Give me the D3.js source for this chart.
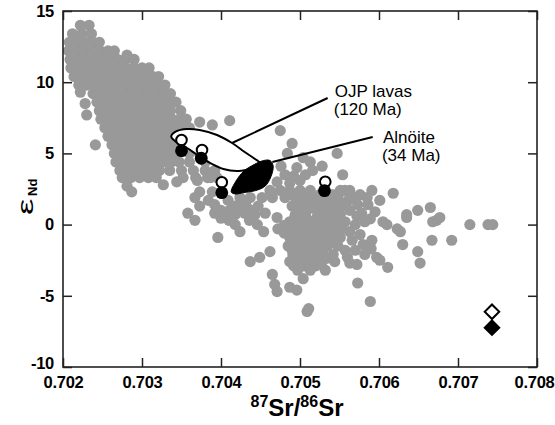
<!DOCTYPE html>
<html>
<head>
<meta charset="utf-8">
<script src="https://cdn.jsdelivr.net/npm/d3@7"></script>
<style>
  body { margin: 0; background: #fff; }
  svg { display: block; }
  text { font-family: "Liberation Sans", Arial, Helvetica, sans-serif; }
</style>
</head>
<body>
<div id="chart"></div>
<script>
// axis ticks
const xTicks = [0.702, 0.703, 0.704, 0.705, 0.706, 0.707, 0.708]
const yTicks = [-10, -5, 0, 5, 10, 15]

// grey field: MORB / OIB compilation, [87Sr/86Sr, eNd]
const fieldPoints = [
  [0.70222, 14.0], [0.70233, 14.0],
  [0.70212, 13.4], [0.70224, 13.4], [0.70236, 13.4],
  [0.70208, 12.8], [0.70218, 12.8], [0.70228, 12.8], [0.70238, 12.8], [0.70246, 12.8],
  [0.70207, 12.2], [0.70217, 12.2], [0.70227, 12.2], [0.70237, 12.2], [0.70247, 12.2], [0.70257, 12.2], [0.70265, 12.2], [0.70281, 11.9],
  [0.70209, 11.6], [0.70219, 11.6], [0.70229, 11.6], [0.70239, 11.6], [0.70249, 11.6], [0.70259, 11.6], [0.70269, 11.6], [0.70279, 11.6], [0.70290, 11.6],
  [0.70210, 11.0], [0.70220, 11.0], [0.70230, 11.0], [0.70240, 11.0], [0.70250, 11.0], [0.70260, 11.0], [0.70270, 11.0], [0.70280, 11.0], [0.70290, 11.0], [0.70300, 11.0], [0.70309, 11.0],
  [0.70214, 10.4], [0.70224, 10.4], [0.70234, 10.4], [0.70244, 10.4], [0.70254, 10.4], [0.70264, 10.4], [0.70274, 10.4], [0.70284, 10.4], [0.70294, 10.4], [0.70304, 10.4], [0.70314, 10.4], [0.70321, 10.4],
  [0.70220, 9.8], [0.70230, 9.8], [0.70240, 9.8], [0.70250, 9.8], [0.70260, 9.8], [0.70270, 9.8], [0.70280, 9.8], [0.70290, 9.8], [0.70300, 9.8], [0.70310, 9.8], [0.70320, 9.8], [0.70329, 9.8],
  [0.70222, 9.3],
  [0.70238, 9.2], [0.70248, 9.2], [0.70258, 9.2], [0.70268, 9.2], [0.70278, 9.2], [0.70288, 9.2], [0.70298, 9.2], [0.70308, 9.2], [0.70318, 9.2], [0.70328, 9.2], [0.70336, 9.2],
  [0.70228, 8.5],
  [0.70243, 8.6], [0.70253, 8.6], [0.70263, 8.6], [0.70273, 8.6], [0.70283, 8.6], [0.70293, 8.6], [0.70303, 8.6], [0.70313, 8.6], [0.70323, 8.6], [0.70333, 8.6], [0.70343, 8.6],
  [0.70246, 8.0], [0.70256, 8.0], [0.70266, 8.0], [0.70276, 8.0], [0.70286, 8.0], [0.70296, 8.0], [0.70306, 8.0], [0.70316, 8.0], [0.70326, 8.0], [0.70336, 8.0], [0.70349, 8.0],
  [0.70230, 7.7],
  [0.70248, 7.4], [0.70258, 7.4], [0.70268, 7.4], [0.70278, 7.4], [0.70288, 7.4], [0.70298, 7.4], [0.70308, 7.4], [0.70318, 7.4], [0.70328, 7.4], [0.70338, 7.4], [0.70348, 7.4], [0.70356, 7.4],
  [0.70253, 6.8], [0.70263, 6.8], [0.70273, 6.8], [0.70283, 6.8], [0.70293, 6.8], [0.70303, 6.8], [0.70313, 6.8], [0.70323, 6.8], [0.70333, 6.8], [0.70343, 6.8], [0.70353, 6.8], [0.70360, 6.8],
  [0.70257, 6.2], [0.70267, 6.2], [0.70277, 6.2], [0.70287, 6.2], [0.70297, 6.2], [0.70307, 6.2], [0.70317, 6.2], [0.70327, 6.2], [0.70337, 6.2], [0.70347, 6.2], [0.70357, 6.2],
  [0.70241, 5.6], [0.70262, 5.6], [0.70272, 5.6], [0.70282, 5.6], [0.70292, 5.6], [0.70302, 5.6], [0.70312, 5.6], [0.70322, 5.6], [0.70332, 5.6], [0.70342, 5.6], [0.70352, 5.6], [0.70363, 5.6],
  [0.70265, 5.0], [0.70275, 5.0], [0.70285, 5.0], [0.70295, 5.0], [0.70305, 5.0], [0.70315, 5.0], [0.70325, 5.0], [0.70335, 5.0], [0.70345, 5.0], [0.70360, 5.0], [0.70373, 5.0],
  [0.70267, 4.4], [0.70277, 4.4], [0.70287, 4.4], [0.70297, 4.4], [0.70307, 4.4], [0.70317, 4.4], [0.70327, 4.4], [0.70337, 4.4], [0.70347, 4.4], [0.70360, 4.4], [0.70380, 4.4],
  [0.70272, 3.8], [0.70282, 3.8], [0.70292, 3.8], [0.70302, 3.8], [0.70312, 3.8], [0.70322, 3.8], [0.70335, 3.8], [0.70350, 3.8], [0.70365, 3.8], [0.70380, 3.8], [0.70392, 3.8],
  [0.70275, 3.3], [0.70286, 3.3], [0.70297, 3.3], [0.70308, 3.3], [0.70318, 3.3], [0.70352, 3.3], [0.70368, 3.3], [0.70383, 3.3], [0.70395, 3.3],
  [0.70281, 2.7], [0.70287, 2.3], [0.70327, 2.8], [0.70344, 3.0],
  // scattered above the OJP field
  [0.70373, 7.2], [0.70389, 7.0], [0.70411, 7.3], [0.70475, 6.6], [0.70490, 5.7], [0.70484, 5.0],
  [0.70504, 4.7], [0.70513, 4.4], [0.70516, 3.8], [0.70547, 5.0], [0.70554, 3.5],
  [0.70496, 4.0], [0.70481, 3.5], [0.70471, 3.0], [0.70487, 2.9], [0.70500, 3.1], [0.70557, 2.4],
  [0.70476, 4.1], [0.70492, 3.4], [0.70507, 3.5], [0.70528, 4.1],
  // around the alnoite field
  [0.70370, 3.1], [0.70373, 2.3], [0.70384, 1.7], [0.70387, 3.3], [0.70389, 2.3], [0.70392, 1.4],
  [0.70409, 1.7], [0.70411, 1.0], [0.70373, 1.3], [0.70367, 1.9],
  [0.70358, 0.8], [0.70367, 0.3], [0.70396, -0.9],
  [0.70392, 0.8], [0.70405, 0.8], [0.70418, 0.7], [0.70430, 0.8], [0.70443, 0.7], [0.70456, 0.8],
  [0.70418, 0.0], [0.70424, -0.5], [0.70446, 0.0], [0.70454, -0.5], [0.70410, 0.3], [0.70436, 0.3],
  [0.70424, 1.9], [0.70437, 1.9], [0.70452, 1.9], [0.70465, 1.9], [0.70481, 1.9], [0.70494, 1.9], [0.70506, 1.9], [0.70519, 1.9], [0.70535, 1.9], [0.70548, 1.9],
  [0.70462, 2.4], [0.70475, 2.4], [0.70487, 2.4], [0.70500, 2.4], [0.70513, 2.4], [0.70551, 2.4],
  [0.70494, 2.1], [0.70525, 2.1], [0.70541, 2.1],
  [0.70418, 1.3], [0.70432, 1.3], [0.70447, 1.3], [0.70490, 1.3], [0.70503, 1.3], [0.70515, 1.3], [0.70528, 1.3], [0.70542, 1.3], [0.70553, 1.3],
  [0.70430, 1.6], [0.70497, 1.6], [0.70510, 1.6], [0.70522, 1.6], [0.70535, 1.6], [0.70547, 1.6],
  [0.70400, 1.0], [0.70426, 1.0], [0.70438, 1.0], [0.70497, 1.0], [0.70509, 1.0], [0.70521, 1.0], [0.70534, 1.0], [0.70547, 1.0],
  [0.70494, 0.7], [0.70506, 0.7], [0.70523, 0.7], [0.70538, 0.7], [0.70551, 0.7], [0.70471, 0.5],
  [0.70400, 0.45], [0.70493, 0.45], [0.70508, 0.45], [0.70521, 0.45], [0.70535, 0.45], [0.70548, 0.45],
  [0.70487, 0.2], [0.70500, 0.2], [0.70515, 0.2], [0.70528, 0.2], [0.70544, 0.2], [0.70557, 0.2],
  [0.70480, -0.05], [0.70494, -0.05], [0.70508, -0.05], [0.70521, -0.05], [0.70535, -0.05], [0.70550, -0.05],
  [0.70472, -0.3], [0.70487, -0.3], [0.70500, -0.3], [0.70515, -0.3], [0.70528, -0.3], [0.70541, -0.3], [0.70553, -0.3],
  [0.70480, -0.6], [0.70494, -0.6], [0.70507, -0.6], [0.70520, -0.6], [0.70533, -0.6], [0.70546, -0.6],
  [0.70487, -0.9], [0.70500, -0.9], [0.70513, -0.9], [0.70525, -0.9], [0.70538, -0.9], [0.70551, -0.9],
  [0.70493, -1.2], [0.70506, -1.2], [0.70518, -1.2], [0.70530, -1.2], [0.70543, -1.2],
  [0.70485, -1.5], [0.70497, -1.5], [0.70510, -1.5], [0.70523, -1.5], [0.70535, -1.5], [0.70548, -1.5],
  [0.70490, -1.8], [0.70502, -1.8], [0.70516, -1.8], [0.70529, -1.8],
  [0.70491, -2.1], [0.70504, -2.1], [0.70516, -2.1], [0.70529, -2.1], [0.70542, -2.1],
  [0.70495, -2.35], [0.70508, -2.35], [0.70522, -2.35], [0.70535, -2.35],
  [0.70487, -2.6], [0.70500, -2.6], [0.70515, -2.6], [0.70528, -2.6], [0.70544, -2.6],
  [0.70492, -2.9], [0.70505, -2.9], [0.70520, -2.9],
  [0.70497, -3.2], [0.70513, -3.2], [0.70532, -3.2],
  [0.70462, -1.9], [0.70437, -2.6], [0.70449, -2.3], [0.70465, -3.5], [0.70468, -4.2], [0.70471, -4.7],
  [0.70487, -4.4], [0.70496, -4.6], [0.70504, -3.8], [0.70509, -6.1], [0.70511, -5.9],
  // 0.7055 - 0.7062 group
  [0.70551, 2.3], [0.70563, 2.4], [0.70576, 2.1], [0.70591, 2.4], [0.70601, 1.7], [0.70561, 1.7],
  [0.70573, 1.4], [0.70586, 1.4], [0.70563, 1.0], [0.70578, 0.8], [0.70595, 0.9], [0.70618, 2.2],
  [0.70566, 1.9], [0.70585, 1.9], [0.70572, 0.6], [0.70589, 0.4],
  [0.70570, 0.0], [0.70582, 0.2], [0.70563, -0.5], [0.70576, -0.7], [0.70591, -1.1], [0.70557, -1.8],
  [0.70566, -1.1], [0.70580, -1.4], [0.70560, -2.3], [0.70590, -1.7],
  [0.70570, -1.8], [0.70582, -2.1], [0.70597, -2.3], [0.70605, 0.2], [0.70610, 0.0], [0.70623, -0.3],
  [0.70627, -0.5], [0.70563, -2.7], [0.70572, -2.8], [0.70601, -2.5],
  // radiogenic tail
  [0.70630, -1.4], [0.70635, 0.7], [0.70635, 0.5], [0.70649, 1.0], [0.70665, 1.2], [0.70673, 0.3],
  [0.70677, 0.5], [0.70668, 0.2], [0.70667, -1.1], [0.70692, -1.1], [0.70649, -1.9], [0.70652, -2.7],
  [0.70611, -3.0], [0.70573, -4.1], [0.70589, -5.4], [0.70715, 0.0], [0.70738, 0.0], [0.70744, 0.0]
]

// open / filled circles and diamonds
const openCircles = [[0.70350, 5.94], [0.70376, 5.24], [0.70401, 2.97], [0.70532, 3.01]]
const filledCircles = [[0.70350, 5.19], [0.70375, 4.66], [0.70401, 2.24], [0.70531, 2.38]]
const openDiamonds = [[0.70743, -6.12]]
const filledDiamonds = [[0.70743, -7.24]]

// field outlines
const ojpField = [
  [0.70337, 6.19], [0.70343, 6.54], [0.70357, 6.71], [0.70373, 6.64], [0.70395, 6.29], [0.70414, 5.73],
  [0.70430, 5.10], [0.70443, 4.61], [0.70449, 4.33], [0.70444, 4.04], [0.70434, 3.87], [0.70420, 3.76],
  [0.70403, 3.90], [0.70386, 4.33], [0.70370, 4.89], [0.70357, 5.38], [0.70344, 5.77]
]
const alnoiteField = [
  [0.70413, 2.29], [0.70419, 3.06], [0.70429, 3.76], [0.70442, 4.22], [0.70454, 4.50], [0.70462, 4.50],
  [0.70466, 4.12], [0.70463, 3.34], [0.70456, 2.71], [0.70444, 2.39], [0.70429, 2.25], [0.70418, 2.15]
]

// labels with leader lines
const labelNames = ["OJP lavas", "Alnöite"]
const labelAges = ["(120 Ma)", "(34 Ma)"]
const labelAt = [[0.70544, 8.96], [0.70605, 5.73]]
const leaderFrom = [[0.70414, 5.73], [0.70465, 4.40]]
const leaderTo = [[0.70535, 8.89], [0.70592, 6.15]]

const width = 555
const height = 425
const margin = {top: 11, right: 18, bottom: 58, left: 63}

const svg = d3.select("#chart")
  .append("svg")
  .attr("width", width)
  .attr("height", height)

const x = d3.scaleLinear()
  .domain([0.702, 0.708])
  .range([margin.left, width - margin.right])

const y = d3.scaleLinear()
  .domain([-10, 15])
  .range([height - margin.bottom, margin.top])

// grey data
svg.append("g")
  .selectAll("circle")
  .data(fieldPoints)
  .join("circle")
  .attr("cx", d => x(d[0]))
  .attr("cy", d => y(d[1]))
  .attr("r", 5.6)
  .attr("fill", "#999")

const outline = d3.line()
  .x(d => x(d[0]))
  .y(d => y(d[1]))
  .curve(d3.curveCatmullRomClosed)

svg.append("path")
  .attr("d", outline(ojpField))
  .attr("fill", "#fff")
  .attr("stroke", "#000")
  .attr("stroke-width", 2)

svg.append("path")
  .attr("d", outline(alnoiteField))
  .attr("fill", "#000")
  .attr("stroke", "#000")
  .attr("stroke-width", 1)

// leader lines
svg.append("g")
  .selectAll("line")
  .data(leaderFrom)
  .join("line")
  .attr("x1", d => x(d[0]))
  .attr("y1", d => y(d[1]))
  .attr("x2", (d, i) => x(leaderTo[i][0]))
  .attr("y2", (d, i) => y(leaderTo[i][1]))
  .attr("stroke", "#000")
  .attr("stroke-width", 2)

svg.append("g")
  .selectAll("circle")
  .data(openCircles)
  .join("circle")
  .attr("cx", d => x(d[0]))
  .attr("cy", d => y(d[1]))
  .attr("r", 5.3)
  .attr("fill", "#fff")
  .attr("stroke", "#000")
  .attr("stroke-width", 2)

svg.append("g")
  .selectAll("circle")
  .data(filledCircles)
  .join("circle")
  .attr("cx", d => x(d[0]))
  .attr("cy", d => y(d[1]))
  .attr("r", 6.4)
  .attr("fill", "#000")

const diamond = d3.symbol(d3.symbolSquare, 105)

svg.append("g")
  .selectAll("path")
  .data(openDiamonds)
  .join("path")
  .attr("d", diamond)
  .attr("transform", d => `translate(${x(d[0])},${y(d[1])}) rotate(45)`)
  .attr("fill", "#fff")
  .attr("stroke", "#000")
  .attr("stroke-width", 2)

svg.append("g")
  .selectAll("path")
  .data(filledDiamonds)
  .join("path")
  .attr("d", diamond)
  .attr("transform", d => `translate(${x(d[0])},${y(d[1])}) rotate(45)`)
  .attr("fill", "#000")
  .attr("stroke", "#000")
  .attr("stroke-width", 2)

// frame and ticks
const tickLen = -9
const axisStyle = g => {
  g.select(".domain").remove()
  g.selectAll(".tick line").attr("stroke", "#222").attr("stroke-width", 1.5)
  g.selectAll(".tick text")
    .attr("fill", "#000")
    .style("font-size", "16.5px")
    .style("font-weight", "bold")
    .style("letter-spacing", "-0.3px")
}

svg.append("g")
  .attr("transform", `translate(0,${height - margin.bottom})`)
  .call(d3.axisBottom(x).tickValues(xTicks).tickSize(tickLen).tickPadding(9).tickFormat(d3.format(".3f")))
  .call(axisStyle)
  .selectAll(".tick text")
  .attr("dx", d => d === 0.708 ? -3 : 0)

svg.append("g")
  .attr("transform", `translate(${margin.left},0)`)
  .call(d3.axisLeft(y).tickValues(yTicks).tickSize(tickLen).tickPadding(9).tickFormat(d => String(d)))
  .call(axisStyle)
  .selectAll(".tick text")
  .attr("y", d => d === -10 ? -4 : 0)

svg.append("g")
  .attr("transform", `translate(0,${margin.top})`)
  .call(d3.axisTop(x).tickValues(xTicks).tickSize(tickLen).tickFormat(""))
  .call(axisStyle)

svg.append("g")
  .attr("transform", `translate(${width - margin.right},0)`)
  .call(d3.axisRight(y).tickValues(yTicks).tickSize(tickLen).tickFormat(""))
  .call(axisStyle)

svg.append("rect")
  .attr("x", margin.left)
  .attr("y", margin.top)
  .attr("width", width - margin.left - margin.right)
  .attr("height", height - margin.top - margin.bottom)
  .attr("fill", "none")
  .attr("stroke", "#222")
  .attr("stroke-width", 1.6)

// annotation text
const notes = svg.append("g")
  .selectAll("text")
  .data(labelNames)
  .join("text")
  .attr("x", (d, i) => x(labelAt[i][0]))
  .attr("y", (d, i) => y(labelAt[i][1]))
  .style("font-size", "17px")
  .attr("fill", "#000")

notes.append("tspan").text(d => d)
notes.append("tspan")
  .attr("x", (d, i) => x(labelAt[i][0]) - 1)
  .attr("dy", 18)
  .text((d, i) => labelAges[i])

// axis titles
const xTitle = svg.append("text")
  .attr("x", 297)
  .attr("y", 416)
  .attr("text-anchor", "middle")
  .attr("fill", "#000")
  .style("font-weight", "bold")
  .style("font-size", "24px")
xTitle.append("tspan").attr("font-size", "16px").attr("dy", -9).text("87")
xTitle.append("tspan").attr("dy", 9).text("Sr/")
xTitle.append("tspan").attr("font-size", "16px").attr("dy", -9).text("86")
xTitle.append("tspan").attr("dy", 9).text("Sr")

svg.append("text")
  .attr("transform", "translate(33,215) rotate(-90) scale(1.6,0.95)")
  .style("font-size", "23px")
  .text("ε")

svg.append("text")
  .attr("transform", "translate(37,196) rotate(-90)")
  .style("font-size", "13px")
  .style("font-weight", "bold")
  .text("Nd")
</script>
</body>
</html>
